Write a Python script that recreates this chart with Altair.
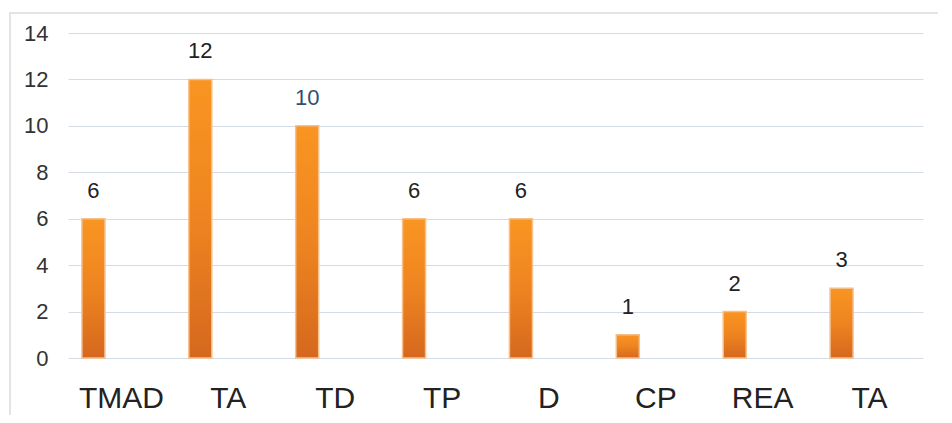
import json
import altair as alt
import pandas as pd

categories = ["TMAD", "TA", "TD", "TP", "D", "CP", "REA", "TA"]
values = [6, 12, 10, 6, 6, 1, 2, 3]

df = pd.DataFrame({"idx": list(range(len(categories))), "label": categories, "value": values})

label_expr = json.dumps(categories) + "[datum.value]"

FONT = "Liberation Sans"

x_enc = alt.X(
    "idx:O",
    scale=alt.Scale(paddingInner=0, paddingOuter=0),
    axis=alt.Axis(
        title=None, labelExpr=label_expr, labelAngle=0, ticks=False, domain=False,
        labelFont=FONT, labelFontSize=30, labelColor="#222222",
        labelBaseline="alphabetic", labelPadding=49, grid=False,
    ),
)
y_enc = alt.Y(
    "value:Q",
    scale=alt.Scale(domain=[0, 14], nice=False),
    axis=alt.Axis(
        title=None, values=[0, 2, 4, 6, 8, 10, 12, 14], ticks=False, domain=False,
        labelFont=FONT, labelFontSize=22, labelColor="#333333", labelPadding=20,
        gridColor="#d5dbe3", gridWidth=1.2,
    ),
)

base = alt.Chart(df)

frame = base.mark_rect(fill=None, stroke="#dcdcdc", strokeWidth=1.5, clip=False).encode(
    x=alt.value(-58), x2=alt.value(960), y=alt.value(-20), y2=alt.value(500)
).transform_filter("datum.idx == 0")

gradient = alt.Gradient(
    gradient="linear",
    stops=[
        alt.GradientStop(color="#F99522", offset=0),
        alt.GradientStop(color="#EE8420", offset=0.5),
        alt.GradientStop(color="#D5681E", offset=1),
    ],
    x1=0, x2=0, y1=0, y2=1,
)

bars = base.mark_bar(width=23, xOffset=-28, color=gradient, stroke="#f6c08a", strokeWidth=1.5).encode(
    x=x_enc, y=y_enc
)

labels = base.mark_text(
    xOffset=-28, dy=-21, baseline="alphabetic", align="center", font=FONT, fontSize=22
).encode(
    x=x_enc,
    y=y_enc,
    text="value:Q",
    color=alt.condition(alt.datum.value == 10, alt.value("#2F4F73"), alt.value("#222222")),
)

chart = alt.layer(frame, bars, labels).properties(
    width=855, height=325,
    autosize=alt.AutoSizeParams(type="none"),
    padding={"left": 60, "top": 25, "right": 15, "bottom": 57},
    background="white",
).configure_view(stroke=None)

chart.save("out.html", embed_options={"renderer": "svg", "actions": False})
